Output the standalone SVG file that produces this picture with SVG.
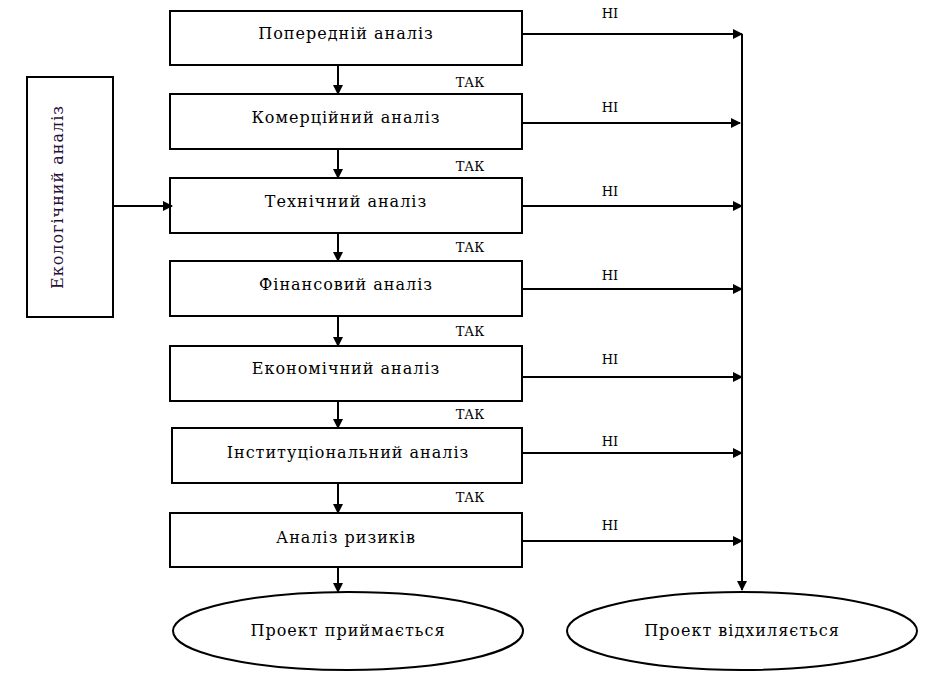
<svg xmlns="http://www.w3.org/2000/svg" width="949" height="676" viewBox="0 0 949 676">
<style>
.box{fill:#fff;stroke:#000;stroke-width:2}
.t{font-family:"DejaVu Serif","Liberation Serif",serif;font-size:16px;letter-spacing:1px;fill:#000;text-anchor:middle;dominant-baseline:central}
.s{font-family:"DejaVu Serif","Liberation Serif",serif;font-size:13px;fill:#000;text-anchor:middle;dominant-baseline:central}
.c{stroke:#000;stroke-width:2;fill:none}
</style>
<defs>
<marker id="a" markerWidth="10" markerHeight="10" refX="9" refY="5" orient="auto" markerUnits="userSpaceOnUse">
<path d="M0,0 L10,5 L0,10 z" fill="#000"/>
</marker>
</defs>
<g id="n1"><rect class="box" x="170" y="11" width="352" height="54"/><text class="t" x="346" y="33">Попередній аналіз</text></g>
<g id="n2"><rect class="box" x="170" y="94" width="352" height="55"/><text class="t" x="346" y="117">Комерційний аналіз</text></g>
<g id="n3"><rect class="box" x="170" y="178" width="352" height="55"/><text class="t" x="346" y="201">Технічний аналіз</text></g>
<g id="n4"><rect class="box" x="170" y="261" width="352" height="55"/><text class="t" x="346" y="284">Фінансовий аналіз</text></g>
<g id="n5"><rect class="box" x="170" y="346" width="352" height="55"/><text class="t" x="346" y="368">Економічний аналіз</text></g>
<g id="n6"><rect class="box" x="172" y="428" width="350" height="55"/><text class="t" x="348" y="452">Інституціональний аналіз</text></g>
<g id="n7"><rect class="box" x="170" y="513" width="352" height="54"/><text class="t" x="346" y="537">Аналіз ризиків</text></g>
<g id="eco"><rect class="box" x="27" y="77" width="86" height="240"/><text class="t" x="0" y="0" transform="translate(57 197) rotate(-90)" style="fill:#2a1038">Екологічний аналіз</text></g>
<g id="yes"><ellipse class="box" cx="348" cy="631" rx="175" ry="39"/><text class="t" x="348" y="630">Проект приймається</text></g>
<g id="no"><ellipse class="box" cx="742" cy="631" rx="175" ry="39"/><text class="t" x="742" y="630">Проект відхиляється</text></g>
<g id="connectors">
<line class="c" x1="338" y1="65" x2="338" y2="94" marker-end="url(#a)"/>
<line class="c" x1="338" y1="149" x2="338" y2="178" marker-end="url(#a)"/>
<line class="c" x1="338" y1="233" x2="338" y2="261" marker-end="url(#a)"/>
<line class="c" x1="338" y1="316" x2="338" y2="346" marker-end="url(#a)"/>
<line class="c" x1="338" y1="401" x2="338" y2="428" marker-end="url(#a)"/>
<line class="c" x1="338" y1="483" x2="338" y2="513" marker-end="url(#a)"/>
<line class="c" x1="338" y1="567" x2="338" y2="592" marker-end="url(#a)"/>
<line class="c" x1="113" y1="206" x2="172" y2="206" marker-end="url(#a)"/>
<line class="c" x1="522" y1="34" x2="742" y2="34" marker-end="url(#a)"/>
<line class="c" x1="522" y1="123" x2="740" y2="123" marker-end="url(#a)"/>
<line class="c" x1="522" y1="206" x2="742" y2="206" marker-end="url(#a)"/>
<line class="c" x1="522" y1="289" x2="742" y2="289" marker-end="url(#a)"/>
<line class="c" x1="522" y1="377" x2="742" y2="377" marker-end="url(#a)"/>
<line class="c" x1="522" y1="453" x2="742" y2="453" marker-end="url(#a)"/>
<line class="c" x1="522" y1="541" x2="742" y2="541" marker-end="url(#a)"/>
<line class="c" x1="742" y1="34" x2="742" y2="590" marker-end="url(#a)"/>
<text class="s" x="610" y="13">НІ</text>
<text class="s" x="610" y="107">НІ</text>
<text class="s" x="610" y="191">НІ</text>
<text class="s" x="610" y="275">НІ</text>
<text class="s" x="610" y="359">НІ</text>
<text class="s" x="610" y="441">НІ</text>
<text class="s" x="610" y="525">НІ</text>
<text class="s" x="470" y="82">ТАК</text>
<text class="s" x="470" y="166">ТАК</text>
<text class="s" x="470" y="247">ТАК</text>
<text class="s" x="470" y="331">ТАК</text>
<text class="s" x="470" y="414">ТАК</text>
<text class="s" x="470" y="497">ТАК</text>
</g>
</svg>
